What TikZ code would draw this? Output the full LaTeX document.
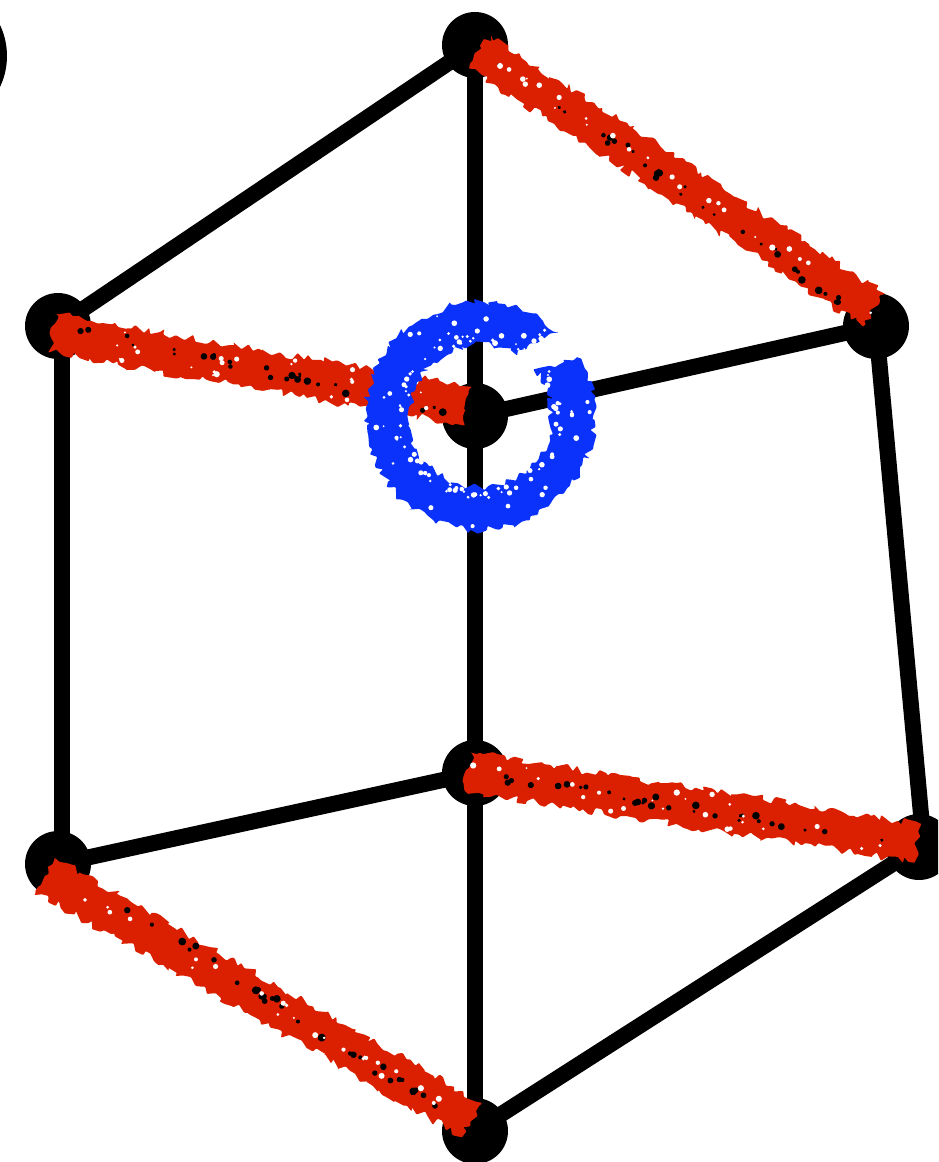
\documentclass[tikz,border=0pt]{standalone}
\usetikzlibrary{calc,decorations.pathmorphing}
\definecolor{edgered}{RGB}{218,32,0}
\definecolor{ringblue}{RGB}{10,50,250}
\tikzset{
  vertexdot/.style={circle,fill=black,inner sep=0pt,minimum size=1.32cm},
  edgeline/.style={line width=0.32cm,black},
  roughfill/.style={rounded corners=0.5pt,decorate,decoration={random steps,segment length=2.8pt,amplitude=2.4pt}}
}
\pgfmathsetseed{27}
\begin{document}
\begin{tikzpicture}[x=0.02cm,y=-0.02cm]
  \useasboundingbox (0,0) rectangle (938,1162);
  \begin{scope}
    \clip (0,0) rectangle (938,1162);
    % vertices
    \node[vertexdot,minimum size=2.88cm] (corner) at (-65,56) {};
    \node[vertexdot] (top) at (475,45) {};
    \node[vertexdot] (upleft) at (58,326) {};
    \node[vertexdot] (upright) at (876,326) {};
    \node[vertexdot] (centre) at (475,416) {};
    \node[vertexdot] (lowmid) at (475,773) {};
    \node[vertexdot] (lowleft) at (58,864) {};
    \node[vertexdot] (lowright) at (919,847) {};
    \node[vertexdot] (bottom) at (475,1131) {};
    % edges
    \foreach \from/\to in {top/upleft,top/centre,centre/lowmid,lowmid/bottom,
      lowleft/lowmid,centre/upright,lowright/bottom} {
      \draw[edgeline] (\from.center) -- (\to.center);
    }
    \draw[edgeline] ([xshift=0.08cm]upleft.center) -- ([xshift=0.08cm]lowleft.center);
    \draw[edgeline] (upright.center) -- ([xshift=0.1cm]lowright.center);
    % ends of the red bands
    \coordinate (redA) at (480,52);
    \coordinate (redB) at (874,310);
    \coordinate (redC) at (52,333);
    \coordinate (redD) at (468,406);
    \coordinate (redE) at (468,772);
    \coordinate (redF) at (918,843);
    \coordinate (redG) at (45,875);
    \coordinate (redH) at (472,1120);
    % red bands, holes on the black line and on the rim
    \foreach \from/\to/\la/\lb in {redA/redB/top/upright,redC/redD/upleft/centre,
      redE/redF/lowmid/lowright,redG/redH/lowleft/bottom} {
      \fill[edgered,roughfill] ($(\from)!0.39cm!90:(\to)$) -- ($(\to)!0.39cm!-90:(\from)$)
        -- ($(\to)!0.39cm!90:(\from)$) -- ($(\from)!0.39cm!-90:(\to)$) -- cycle;
      \foreach \i in {1,...,30} {
        \pgfmathsetmacro{\pos}{0.06+0.88*rnd}
        \pgfmathsetmacro{\rad}{1.5+2.5*rnd}
        \pgfmathsetmacro{\tilt}{360*rnd}
        \fill[black,rotate around={\tilt:(0,0)}] ($(\la.center)!\pos!(\lb.center)$) ++(rand*5,rand*5) circle (\rad);
      }
      \foreach \i in {1,...,24} {
        \pgfmathsetmacro{\pos}{0.03+0.94*rnd}
        \pgfmathsetmacro{\rad}{1+2.2*rnd}
        \pgfmathsetmacro{\off}{rand*20}
        \fill[white] ($(\from)!\pos!(\to)$) ++(\off,\off) circle (\rad);
      }
    }
    % blue ring
    \coordinate (ringcentre) at (480,416);
    \fill[ringblue,roughfill] ($(ringcentre)+(-47:114)$)
      arc[start angle=-47,end angle=-391,radius=114]
      -- ($(ringcentre)+(-401:71)$)
      arc[start angle=-401,end angle=-59,radius=71] -- cycle;
    \foreach \i in {1,...,110} {
      \pgfmathsetmacro{\ang}{360*rnd}
      \pgfmathsetmacro{\ring}{rnd<0.75 ? 74+9*rnd : 85+26*rnd}
      \pgfmathsetmacro{\rad}{1+2*rnd}
      \fill[white] ($(ringcentre)+(\ang:\ring)$) circle (\rad);
    }
  \end{scope}
\end{tikzpicture}
\end{document}
